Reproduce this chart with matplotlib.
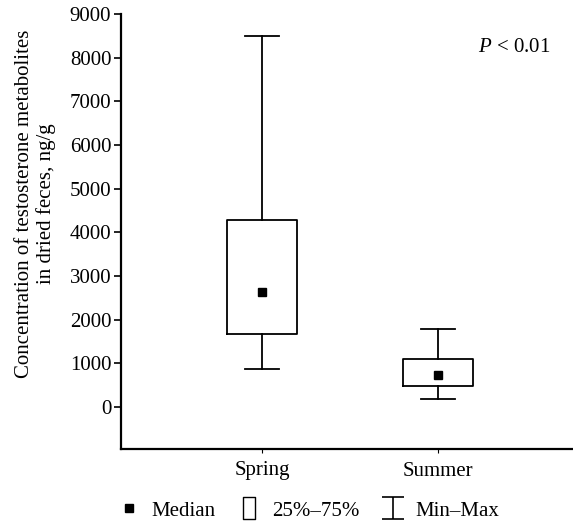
import matplotlib
matplotlib.use("Agg")
import matplotlib.pyplot as plt
from matplotlib.lines import Line2D
from matplotlib.path import Path

plt.rcParams.update({
    "font.family": "serif",
    "font.serif": ["Liberation Serif", "DejaVu Serif"],
    "mathtext.fontset": "custom",
    "mathtext.rm": "Liberation Serif",
    "mathtext.it": "Liberation Serif:italic",
    "font.size": 15,
})

#values, ng/g
seasons = ["Spring", "Summer"]
q_min = [870, 176]
q25 = [1672, 481]
median = [2626, 733]
q75 = [4275, 1092]
q_max = [8496, 1779]
yticks = list(range(0, 9001, 1000))

fig = plt.figure(figsize=(5.73, 5.24), dpi=100)
ax = fig.add_axes([121 / 573, 75 / 524, 452 / 573, 435 / 524])

stats = [dict(med=m, q1=a, q3=b, whislo=lo, whishi=hi, label=s)
         for s, lo, a, m, b, hi in zip(seasons, q_min, q25, median, q75, q_max)]
lw = 1.3
ax.bxp(stats, positions=[1, 2], widths=0.4, capwidths=0.19,
       showfliers=False, patch_artist=False,
       boxprops=dict(color="black", lw=lw),
       whiskerprops=dict(color="black", lw=lw),
       capprops=dict(color="black", lw=lw),
       medianprops=dict(lw=0))
ax.plot([1, 2], median, ls="none", marker="s", ms=6, color="black")

ax.set_xlim(0.199, 2.767)
ax.set_ylim(-960, 9000)
ax.set_yticks(yticks)
ax.set_xticks([1, 2], seasons)
for side in ("top", "right"):
    ax.spines[side].set_visible(False)
for side in ("left", "bottom"):
    ax.spines[side].set_linewidth(1.6)
ax.tick_params(axis="y", direction="out", length=5, width=1.2, pad=2)
ax.tick_params(axis="x", direction="out", length=3, width=0.8, pad=6)

ax.set_ylabel("Concentration of testosterone metabolites\nin dried feces, ng/g",
              va="center", linespacing=1.15)
ax.yaxis.set_label_coords(-0.19, 0.563)

ax.text(0.949, 0.922, "$P$ < 0.01", transform=ax.transAxes,
        ha="right", va="center")

#legend symbols
rect = Path([(-0.27, -0.5), (0.27, -0.5), (0.27, 0.5), (-0.27, 0.5), (-0.27, -0.5)],
            [Path.MOVETO, Path.LINETO, Path.LINETO, Path.LINETO, Path.CLOSEPOLY])
ibeam = Path([(-0.5, 0.5), (0.5, 0.5), (0, 0.5), (0, -0.5), (-0.5, -0.5), (0.5, -0.5)],
             [Path.MOVETO, Path.LINETO, Path.MOVETO, Path.LINETO, Path.MOVETO, Path.LINETO])
handles = [
    Line2D([], [], ls="none", marker="s", ms=6, color="black"),
    Line2D([], [], ls="none", marker=rect, ms=16, mfc="none", mec="black", mew=1.0),
    Line2D([], [], ls="none", marker=ibeam, ms=16, mfc="none", mec="black", mew=1.2),
]
fig.legend(handles, ["Median", "25%\u201375%", "Min\u2013Max"], ncol=3,
           loc="center", bbox_to_anchor=(309 / 573, 13 / 524), frameon=False,
           handlelength=1.0, handletextpad=0.6, columnspacing=1.1)

fig.savefig("out.png", dpi=100)
